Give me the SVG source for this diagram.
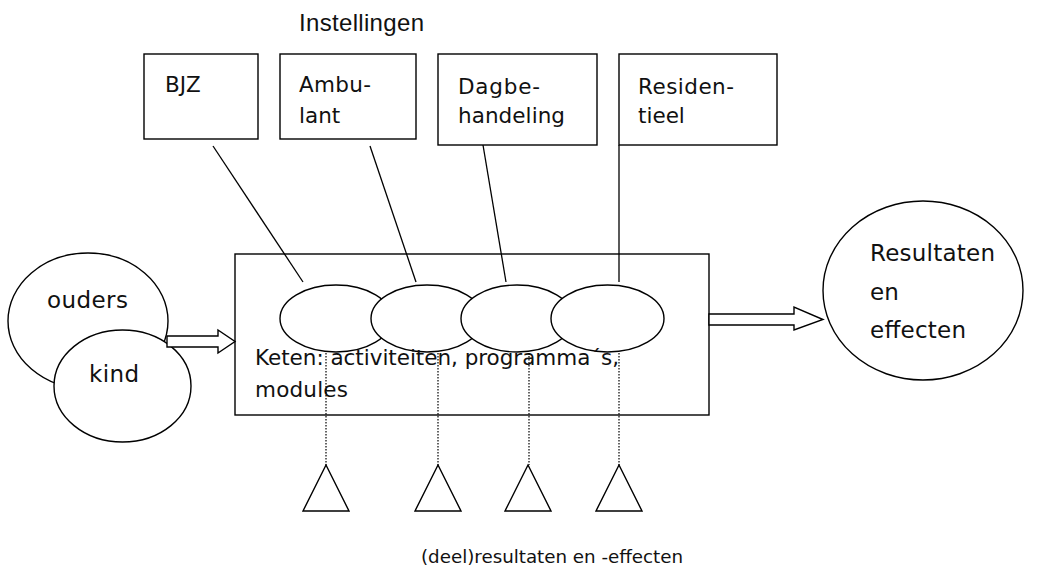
<svg xmlns="http://www.w3.org/2000/svg" width="1040" height="573" viewBox="0 0 1040 573">
<style>
.s{fill:#fff;stroke:#000;stroke-width:1.4}
.t{font-family:"DejaVu Sans",Verdana,sans-serif;fill:#111}
.ln{stroke:#000;stroke-width:1.3;fill:none}
.dot{stroke:#000;stroke-width:1.2;stroke-dasharray:1.5 1.5;fill:none}
</style>
<rect width="1040" height="573" fill="#fff"/>
<text x="299" y="31" textLength="125" style="font-family:'Liberation Sans',Arial,sans-serif;font-size:24px;fill:#111">Instellingen</text>
<g id="bjz"><rect class="s" x="144" y="54" width="114" height="85"/><text class="t" x="165" y="92" font-size="21.5">BJZ</text></g>
<g id="ambulant"><rect class="s" x="280" y="54" width="136" height="85"/><text class="t" x="299" y="92" font-size="21.5" textLength="72">Ambu-</text><text class="t" x="299" y="123" font-size="21.5">lant</text></g>
<g id="dagbehandeling"><rect class="s" x="438" y="54" width="159" height="91"/><text class="t" x="458" y="94" font-size="21.5" textLength="82">Dagbe-</text><text class="t" x="458" y="123" font-size="21.5" textLength="107">handeling</text></g>
<g id="residentieel"><rect class="s" x="619" y="54" width="158" height="91"/><text class="t" x="638" y="94" font-size="21.5" textLength="96">Residen-</text><text class="t" x="638" y="123" font-size="21.5">tieel</text></g>
<g id="ouders"><ellipse class="s" cx="88" cy="321" rx="80" ry="68"/><text class="t" x="47" y="308" font-size="23" textLength="81">ouders</text></g>
<g id="kind"><ellipse class="s" cx="122.5" cy="386" rx="68.5" ry="56"/><text class="t" x="89" y="382" font-size="23" textLength="50">kind</text></g>
<g id="keten"><rect class="s" x="235" y="254" width="474" height="161"/>
<ellipse class="s" cx="336" cy="318.5" rx="56" ry="33.5"/>
<ellipse class="s" cx="427" cy="318.5" rx="56" ry="33.5"/>
<ellipse class="s" cx="517" cy="318.5" rx="56" ry="33.5"/>
<ellipse class="s" cx="607.5" cy="318.5" rx="56.5" ry="33.5"/>
<text class="t" x="255" y="365" font-size="21.5" textLength="364">Keten: activiteiten, programma´s,</text>
<text class="t" x="255" y="397" font-size="21.5" textLength="93">modules</text></g>
<g id="resultaten"><ellipse class="s" cx="923" cy="290.5" rx="100" ry="89.5"/><text class="t" x="870" y="261" font-size="23" textLength="125">Resultaten</text><text class="t" x="870" y="300" font-size="23">en</text><text class="t" x="870" y="338" font-size="23" textLength="96">effecten</text></g>
<g id="deelresultaten">
<polygon class="s" points="326,465 349,511 303,511"/>
<polygon class="s" points="438,465 461,511 415,511"/>
<polygon class="s" points="528,465 551,511 505,511"/>
<polygon class="s" points="619,465 642,511 596,511"/>
<text class="t" x="421" y="563" font-size="18.3" textLength="262">(deel)resultaten en -effecten</text></g>
<g id="connectors">
<line class="ln" x1="213" y1="146" x2="303" y2="282"/>
<line class="ln" x1="370" y1="146" x2="416" y2="282"/>
<line class="ln" x1="483" y1="145" x2="506" y2="282"/>
<line class="ln" x1="619" y1="145" x2="619" y2="282"/>
<line class="dot" x1="326" y1="353" x2="326" y2="465"/>
<line class="dot" x1="438" y1="353" x2="438" y2="465"/>
<line class="dot" x1="529" y1="353" x2="529" y2="465"/>
<line class="dot" x1="619" y1="353" x2="619" y2="465"/>
<polygon class="s" points="167,336 218,336 218,330 235,341.5 218,353 218,347 167,347"/>
<polygon class="s" points="709,314 794,314 794,307 823,319.5 794,330 794,325 709,325"/>
</g>
</svg>
